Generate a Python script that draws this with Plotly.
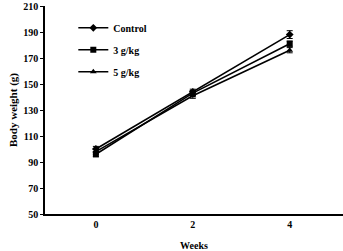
import plotly.graph_objects as go

weeks = [0, 2, 4]
series_names = ["Control", "3 g/kg", "5 g/kg"]
control = [100, 144, 188]
g3 = [96, 143, 181]
g5 = [98, 141, 176]
control_err = [2, 2, 3]
g3_err = [2, 2, 2]
g5_err = [2, 2, 2]
y_ticks = [50, 70, 90, 110, 130, 150, 170, 190, 210]

symbols = ["diamond", "square", "triangle-up"]
values = [control, g3, g5]
errs = [control_err, g3_err, g5_err]

fig = go.Figure()
for i, (name, vals, err, sym) in enumerate(zip(series_names, values, errs, symbols)):
    fig.add_trace(go.Scatter(
        x=weeks, y=vals, name=name, mode="lines+markers",
        line=dict(color="black", width=1.6),
        marker=dict(symbol=sym, size=6, color="black"),
        error_y=dict(type="data", array=err, color="black", thickness=1, width=3),
        legendgroup=f"g{i}",
    ))

font_family = "Liberation Serif"
fig.update_layout(
    width=343, height=251,
    margin=dict(l=45, r=0, t=6, b=33),
    paper_bgcolor="white", plot_bgcolor="white",
    font=dict(family=font_family, color="black", size=10),
    showlegend=True,
    legend=dict(x=0.095, y=0.965, xanchor="left", yanchor="top",
                bgcolor="rgba(0,0,0,0)", tracegroupgap=3,
                font=dict(family=font_family, size=10, color="black", weight="bold")),
    xaxis=dict(range=[-1.05, 5.1], tickvals=weeks, ticktext=[str(w) for w in weeks],
               showline=True, linecolor="black", linewidth=1.5, showgrid=False,
               zeroline=False, ticks="", tickfont=dict(size=10, weight="bold"),
               title=dict(text="<b>Weeks</b>", font=dict(size=10), standoff=14)),
    yaxis=dict(range=[50, 210], tickvals=y_ticks, showline=True, linecolor="black",
               linewidth=1.5, showgrid=False, zeroline=False, ticks="outside",
               ticklen=3, tickcolor="black", tickfont=dict(size=10, weight="bold"),
               ticklabeloverflow="allow",
               title=dict(text="<b>Body weight (g)</b>", font=dict(size=11), standoff=3)),
)
fig.write_html("out.html")
